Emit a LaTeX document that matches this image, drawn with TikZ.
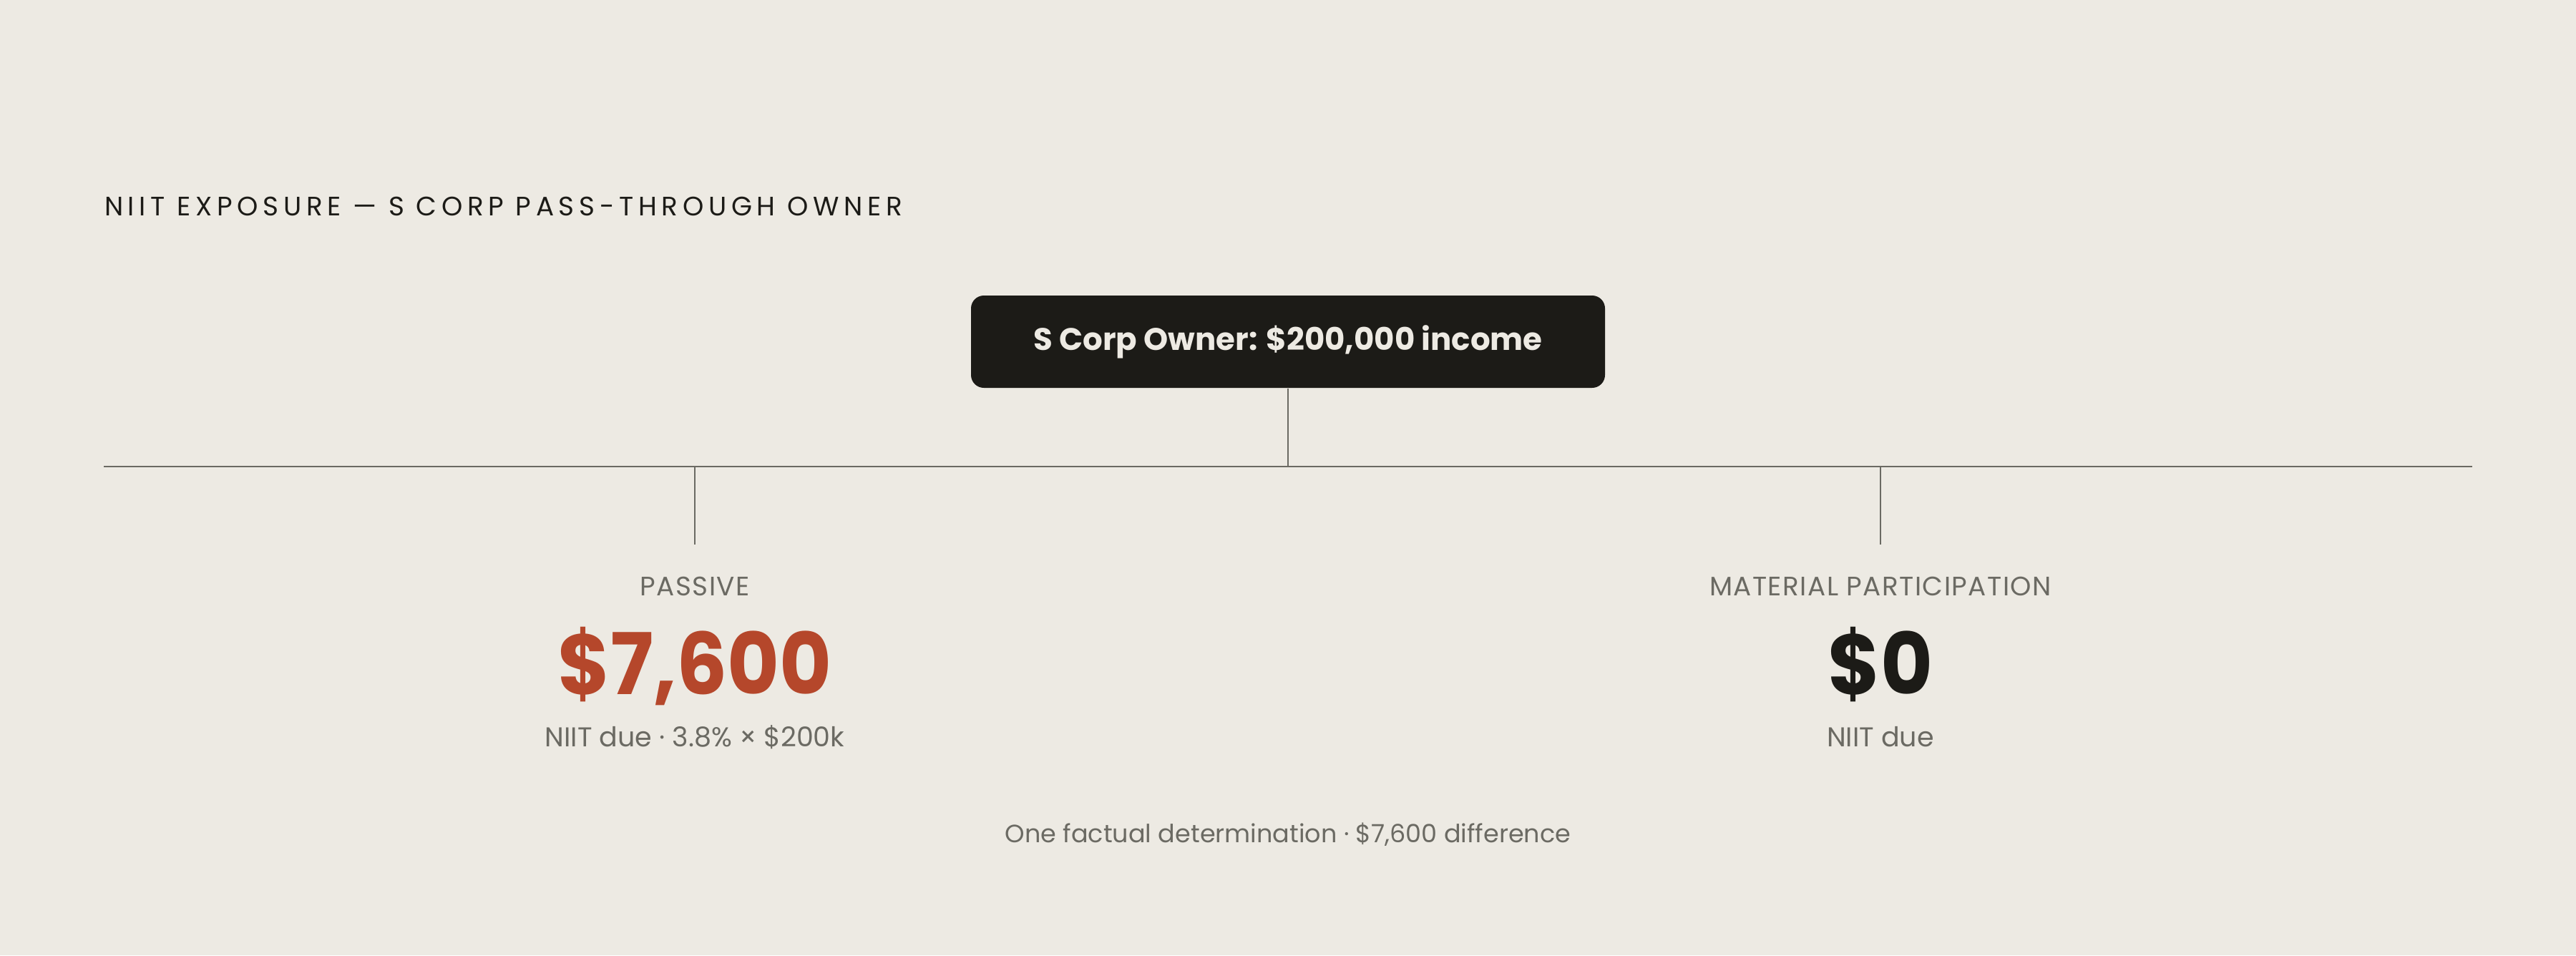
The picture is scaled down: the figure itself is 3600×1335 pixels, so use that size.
\documentclass[tikz,border=0pt]{standalone}
\usepackage{fontspec}
\setmainfont{Poppins}
\newfontfamily\titlefont[LetterSpace=18]{Poppins}
\newfontfamily\labelfont[LetterSpace=4]{Poppins}
\definecolor{bg}{HTML}{EDEAE3}
\definecolor{ink}{HTML}{1C1B17}
\definecolor{muted}{HTML}{6B6A63}
\definecolor{accent}{HTML}{B5472B}
\definecolor{rule}{HTML}{6B6A63}
\newcommand{\narrowval}[1]{\scalebox{0.94}[1]{#1}}
\begin{document}
\begin{tikzpicture}[x=0.2pt,y=-0.2pt,
  txt/.style={inner sep=0pt,outer sep=0pt,anchor=base},
  branchlabel/.style={txt,text=muted,font=\labelfont\fontsize{7.46}{9}\selectfont},
  bigval/.style={txt,font=\fontsize{23.8}{28}\selectfont\bfseries},
  subnote/.style={txt,text=muted,font=\fontsize{7.6}{9}\selectfont},
  footnote/.style={txt,text=muted,font=\fontsize{7.0}{9}\selectfont},
  connector/.style={draw=rule,line width=0.45pt},
  ownerbox/.style={fill=ink,rounded corners=3.6pt,inner sep=0pt,minimum width=177.2pt,minimum height=25.8pt,text=bg,font=\fontsize{8.7}{10}\selectfont\bfseries}]
\fill[bg] (0,0) rectangle (3600,1335);
\useasboundingbox (0,0) rectangle (3600,1335);
% title
\node[txt,anchor=base west,text=ink,font=\titlefont\fontsize{7.46}{9}\selectfont] (title) at (146,301) {NIIT EXPOSURE — S CORP PASS-THROUGH OWNER};
% owner box
\node[ownerbox] (owner) at (1800,477.5) {S Corp Owner: \$200,000 income};
% connectors
\coordinate (jc) at (1800,652);
\coordinate (hl) at (145,652);
\coordinate (hr) at (3455,652);
\coordinate (dl) at (971,652);
\coordinate (dr) at (2628,652);
\coordinate (dlb) at (971,761);
\coordinate (drb) at (2628,761);
\draw[connector] (owner.south) -- (jc);
\draw[connector] (hl) -- (hr);
\draw[connector] (dl) -- (dlb);
\draw[connector] (dr) -- (drb);
% left branch
\node[branchlabel] (passive) at (971,832) {PASSIVE};
\node[bigval,text=accent] (passval) at (971,970) {\narrowval{\$7,600}};
\node[subnote] (passnote) at (971,1043) {NIIT due · 3.8\% × \$200k};
% right branch
\node[branchlabel] (material) at (2628,832) {MATERIAL PARTICIPATION};
\node[bigval,text=ink] (matval) at (2628,970) {\narrowval{\$0}};
\node[subnote] (matnote) at (2628,1043) {NIIT due};
% footer
\node[footnote] (footer) at (1800,1177) {One factual determination · \$7,600 difference};
\end{tikzpicture}
\end{document}
